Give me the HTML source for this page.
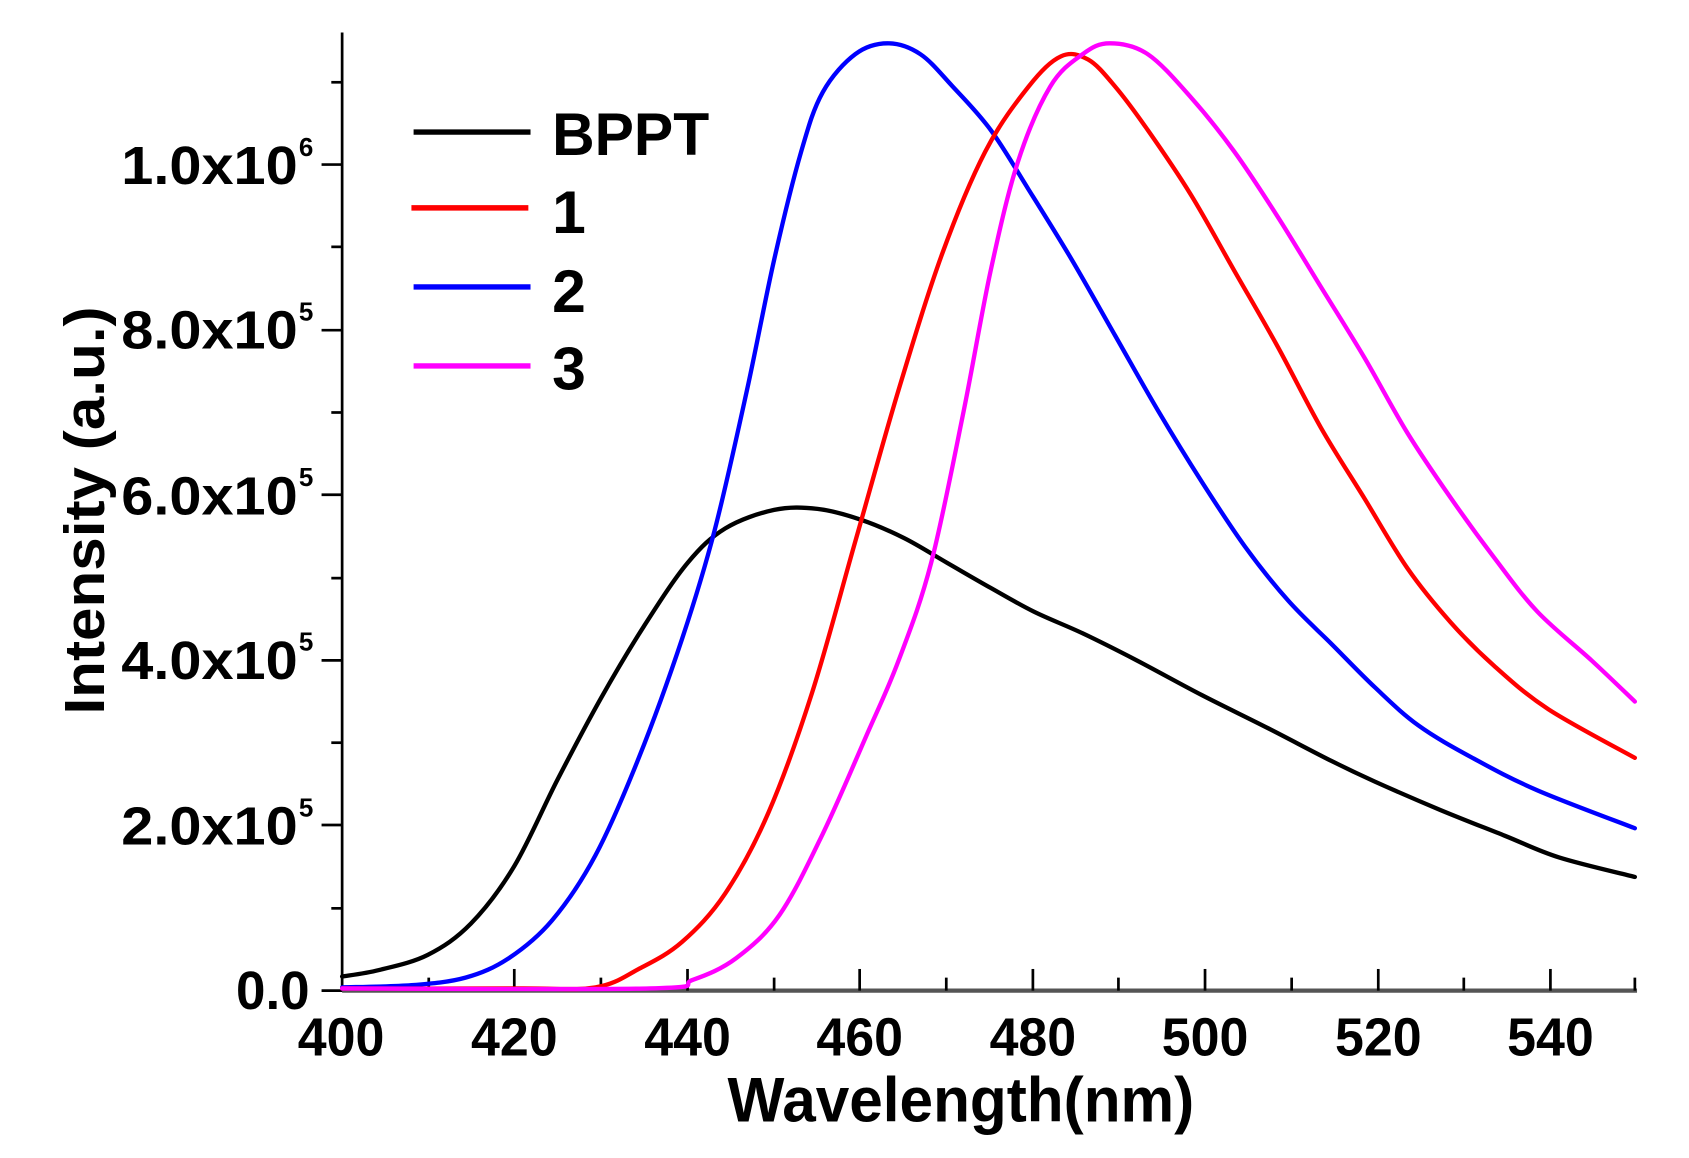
<!DOCTYPE html>
<html><head><meta charset="utf-8"><style>html,body{margin:0;padding:0;background:#fff}svg{display:block}</style></head>
<body>
<svg id="s" width="1689" height="1158" viewBox="0 0 1560 1069.6" preserveAspectRatio="none" xmlns="http://www.w3.org/2000/svg" font-family="Liberation Sans, Arial, sans-serif" font-weight="bold">
<g stroke="#000" stroke-width="2.5">
<line x1="316" y1="30" x2="316" y2="916"/>
<line x1="316" y1="915" x2="1512" y2="915" stroke="#555" stroke-width="4"/>
<line x1="297" y1="915" x2="316" y2="915"/><line x1="297" y1="762" x2="316" y2="762"/><line x1="297" y1="610" x2="316" y2="610"/><line x1="297" y1="457" x2="316" y2="457"/><line x1="297" y1="305" x2="316" y2="305"/><line x1="297" y1="152" x2="316" y2="152"/>
<line x1="306" y1="839" x2="316" y2="839"/><line x1="306" y1="686" x2="316" y2="686"/><line x1="306" y1="534" x2="316" y2="534"/><line x1="306" y1="381" x2="316" y2="381"/><line x1="306" y1="228" x2="316" y2="228"/><line x1="306" y1="76" x2="316" y2="76"/>
<line x1="475" y1="895" x2="475" y2="915"/><line x1="635" y1="895" x2="635" y2="915"/><line x1="794" y1="895" x2="794" y2="915"/><line x1="954" y1="895" x2="954" y2="915"/><line x1="1113" y1="895" x2="1113" y2="915"/><line x1="1273" y1="895" x2="1273" y2="915"/><line x1="1432" y1="895" x2="1432" y2="915"/>
<line x1="396" y1="903" x2="396" y2="915"/><line x1="555" y1="903" x2="555" y2="915"/><line x1="715" y1="903" x2="715" y2="915"/><line x1="874" y1="903" x2="874" y2="915"/><line x1="1033" y1="903" x2="1033" y2="915"/><line x1="1193" y1="903" x2="1193" y2="915"/><line x1="1352" y1="903" x2="1352" y2="915"/><line x1="1510" y1="903" x2="1510" y2="915"/>
</g>
<g font-size="50">
<text x="218" y="932" textLength="68" lengthAdjust="spacingAndGlyphs">0.0</text>
<text x="112" y="780" textLength="163" lengthAdjust="spacingAndGlyphs">2.0x10</text>
<text x="112" y="627" textLength="163" lengthAdjust="spacingAndGlyphs">4.0x10</text>
<text x="112" y="475" textLength="163" lengthAdjust="spacingAndGlyphs">6.0x10</text>
<text x="112" y="322" textLength="163" lengthAdjust="spacingAndGlyphs">8.0x10</text>
<text x="112" y="170" textLength="163" lengthAdjust="spacingAndGlyphs">1.0x10</text>
</g>
<g font-size="24">
<text x="276" y="754">5</text><text x="276" y="601">5</text><text x="276" y="449">5</text><text x="276" y="296">5</text><text x="276" y="144">6</text>
</g>
<g font-size="50">
<text x="275" y="975" textLength="80" lengthAdjust="spacingAndGlyphs">400</text>
<text x="435" y="975" textLength="80" lengthAdjust="spacingAndGlyphs">420</text>
<text x="595" y="975" textLength="80" lengthAdjust="spacingAndGlyphs">440</text>
<text x="754" y="975" textLength="80" lengthAdjust="spacingAndGlyphs">460</text>
<text x="914" y="975" textLength="80" lengthAdjust="spacingAndGlyphs">480</text>
<text x="1073" y="975" textLength="80" lengthAdjust="spacingAndGlyphs">500</text>
<text x="1233" y="975" textLength="80" lengthAdjust="spacingAndGlyphs">520</text>
<text x="1392" y="975" textLength="80" lengthAdjust="spacingAndGlyphs">540</text>
</g>
<text x="672" y="1036" font-size="58" textLength="431" lengthAdjust="spacingAndGlyphs">Wavelength(nm)</text>
<text transform="translate(96,660) rotate(-90)" font-size="52" textLength="377" lengthAdjust="spacingAndGlyphs">Intensity (a.u.)</text>
<g stroke-width="5">
<line x1="382" y1="122" x2="490" y2="122" stroke="#000"/>
<line x1="380" y1="192" x2="488" y2="192" stroke="#f00"/>
<line x1="382" y1="265" x2="490" y2="265" stroke="#00f"/>
<line x1="382" y1="338" x2="490" y2="338" stroke="#f0f"/>
</g>
<g font-size="56">
<text x="510" y="143" textLength="145" lengthAdjust="spacingAndGlyphs">BPPT</text><text x="510" y="215">1</text><text x="510" y="288">2</text><text x="510" y="360">3</text>
</g>
<g id="curves" fill="none" stroke-width="4" stroke-linejoin="round" stroke-linecap="round"></g>
</svg>
<script>
var data=[
["#000","316,902 350,896 395,882 435,853 475,800 515,720 555,645 595,578 635,520 670,488 715,471 755,470 795,480 835,497 875,520 915,543 955,565 1000,585 1050,610 1110,642 1170,672 1230,703 1270,722 1330,748 1390,772 1440,792 1510,810"],
["#00f","316,912 380,910 430,903 470,885 510,850 550,790 590,700 630,590 660,490 690,360 715,240 740,140 760,85 790,50 820,40 850,50 880,80 915,120 950,175 990,240 1030,310 1070,380 1110,445 1150,505 1190,555 1230,595 1270,635 1310,670 1360,700 1420,730 1510,765"],
["#f00","316,913 480,913 550,912 590,895 630,870 670,825 710,750 750,640 790,500 830,360 870,235 910,140 950,80 980,52 1005,55 1030,80 1060,120 1100,180 1140,250 1180,320 1220,395 1260,460 1300,525 1340,575 1380,615 1430,655 1510,700"],
["#f0f","316,913 600,913 640,905 680,885 720,845 760,770 800,680 830,610 860,520 890,380 915,250 940,150 970,80 1000,50 1025,40 1060,50 1100,90 1140,140 1180,200 1220,265 1260,330 1300,400 1340,460 1380,515 1420,565 1470,610 1510,648"]];
var g=document.getElementById("curves");
data.forEach(function(c){
 var p=c[1].split(" ").map(function(s){return s.split(",").map(Number)});
 var d="M"+p[0][0]+","+p[0][1];
 for(var i=0;i<p.length-1;i++){
  var p0=p[i>0?i-1:0],p1=p[i],p2=p[i+1],p3=p[i+2<p.length?i+2:i+1];
  var c1x=p1[0]+(p2[0]-p0[0])/6,c1y=p1[1]+(p2[1]-p0[1])/6;
  var c2x=p2[0]-(p3[0]-p1[0])/6,c2y=p2[1]-(p3[1]-p1[1])/6;
  d+=" C"+c1x+","+c1y+" "+c2x+","+c2y+" "+p2[0]+","+p2[1];
 }
 var e=document.createElementNS("http://www.w3.org/2000/svg","path");
 e.setAttribute("d",d);e.setAttribute("stroke",c[0]);g.appendChild(e);
});
</script>
</body></html>
